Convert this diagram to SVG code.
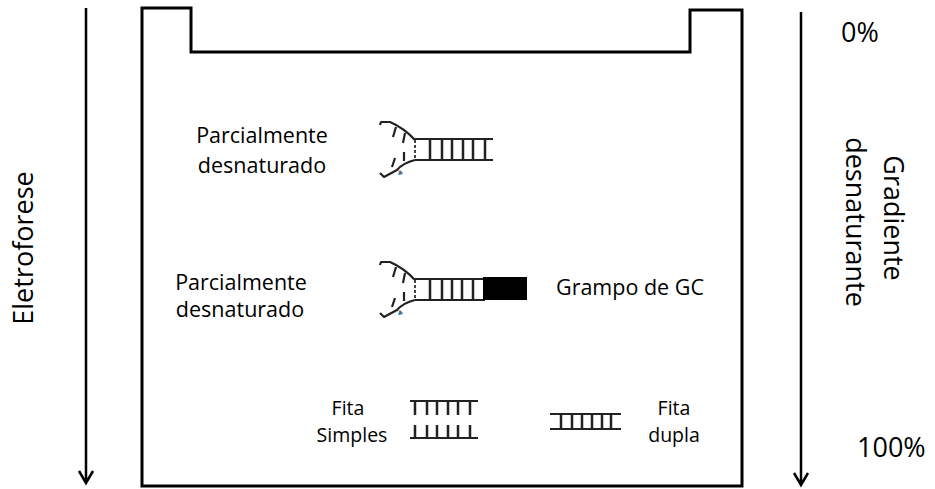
<svg xmlns="http://www.w3.org/2000/svg" xmlns:xlink="http://www.w3.org/1999/xlink" width="935" height="489" viewBox="0 0 935 489">
  <style>
    .lbl { font-family: "Open Sans", "Liberation Sans", sans-serif; font-size: 19.5px; fill: #000; }
    .big { font-size: 21.5px; }
    .side { font-size: 27px; }
    .mid { text-anchor: middle; }
    .frame { fill: none; stroke: #000; stroke-width: 3; stroke-linejoin: miter; }
    .axis { fill: none; stroke: #000; stroke-width: 2.5; }
    .dna { fill: none; stroke: #222; stroke-width: 2.2; stroke-linecap: butt; stroke-linejoin: round; }
    .rung { fill: none; stroke: #222; stroke-width: 2.5; }
    .gap { fill: none; stroke: #444; stroke-width: 2; stroke-dasharray: 3 2; }
  </style>
  <defs>
    <!-- partially melted duplex: forked end on the left -->
    <g id="fork">
      <path class="dna" d="M380,125 L381,122 L390,122 Q404,128 415,140"/>
      <path class="dna" d="M396,127 L393,137 M405,133 L403,143"/>
      <path class="dna" d="M415,160 Q403,163 397,170 L384,177 L380,173"/>
      <path class="dna" d="M404,152 L404,161 M395,158 L392,167"/>
      <path class="gap" d="M415,140 L415,160"/>
      <path d="M398,170 l5,2 l-3,3 z" fill="#e39a3b"/>
      <path d="M400,170 l3,4 l-5,1 z" fill="#3a73b5"/>
    </g>
  </defs>

  <!-- gel outline with loading well -->
  <g id="gel">
    <path class="frame" d="M142,486 L142,8 L191,8 L191,52 L690,52 L690,10 L742,10 L742,486 Z"/>
  </g>

  <!-- direction arrows -->
  <g id="connectors">
    <path class="axis" d="M86,8 L86,482 M79,471 L86,483 L93,471"/>
    <path class="axis" d="M801,12 L801,484 M794,473 L801,485 L808,473"/>
  </g>

  <g id="eletroforese">
    <text class="lbl side mid" transform="translate(33,248) rotate(-90)" font-size="28">Eletroforese</text>
  </g>

  <g id="gradiente">
    <text class="lbl side mid" transform="translate(884,218) rotate(90)" font-size="28">Gradiente</text>
    <text class="lbl side mid" transform="translate(846,222) rotate(90)" font-size="26.5">desnaturante</text>
    <text class="lbl side" x="841" y="42" font-size="26">0%</text>
    <text class="lbl side" x="857" y="457">100%</text>
  </g>

  <!-- band 1: partially denatured -->
  <g id="banda1">
    <use xlink:href="#fork"/>
    <path class="dna" d="M415,139 L493,139 M415,160 L493,160"/>
    <path class="rung" d="M430,139 V160 M442,139 V160 M452,139 V160 M463,139 V160 M473,139 V160 M485,139 V160"/>
    <text class="lbl big mid" x="262" y="143">Parcialmente</text>
    <text class="lbl big mid" x="262" y="173">desnaturado</text>
  </g>

  <!-- band 2: partially denatured with GC clamp -->
  <g id="banda2">
    <use xlink:href="#fork" transform="translate(0,140)"/>
    <path class="dna" d="M415,279 L485,279 M415,300 L485,300"/>
    <path class="rung" d="M430,279 V300 M442,279 V300 M452,279 V300 M462,279 V300 M473,279 V300"/>
    <rect x="483" y="277" width="44" height="23" fill="#000"/>
    <text class="lbl big mid" x="241" y="290">Parcialmente</text>
    <text class="lbl big mid" x="240" y="317">desnaturado</text>
    <text class="lbl big" x="556" y="295">Grampo de GC</text>
  </g>

  <!-- single strands -->
  <g id="fita-simples">
    <path class="dna" d="M410,401 L478,401 M410,438 L478,438" stroke-width="2.5"/>
    <path class="rung" d="M415,401 V415 M427,401 V415 M437,401 V415 M448,401 V415 M458,401 V415 M470,401 V415"/>
    <path class="rung" d="M415,438 V425 M427,438 V425 M437,438 V425 M448,438 V425 M458,438 V425 M470,438 V425"/>
    <text class="lbl mid" x="348" y="415">Fita</text>
    <text class="lbl mid" x="352" y="442">Simples</text>
  </g>

  <!-- double strand -->
  <g id="fita-dupla">
    <path class="dna" d="M550,414 L621,414 M550,429 L621,429" stroke-width="2.5"/>
    <path class="rung" d="M561,414 V429 M572,414 V429 M582,414 V429 M592,414 V429 M602,414 V429 M611,414 V429"/>
    <text class="lbl mid" x="674" y="415">Fita</text>
    <text class="lbl mid" x="674" y="442">dupla</text>
  </g>
</svg>
